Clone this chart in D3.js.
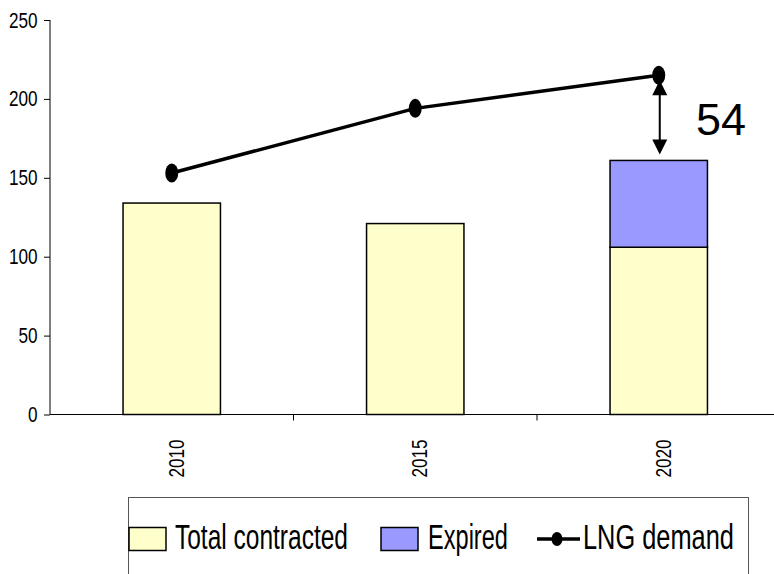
<!DOCTYPE html>
<html>
<head>
<meta charset="utf-8">
<script src="https://cdn.jsdelivr.net/npm/d3@7"></script>
<style>
  html, body { margin: 0; padding: 0; background: #fff; }
  svg { display: block; }
  text { font-family: "Liberation Sans", Arial, sans-serif; fill: #000; }
</style>
</head>
<body>
<svg id="chart" width="774" height="574"></svg>
<script>
// LNG supply vs demand, in the chart's units
const years = ["2010", "2015", "2020"];
const totalContracted = [134, 121, 106];
const expired = [0, 0, 55];
const lngDemand = [153, 194, 215];
const yTicks = [0, 50, 100, 150, 200, 250];
const gapLabel = "54";
const legendLabels = ["Total contracted", "Expired", "LNG demand"];

const colors = { contracted: "#FFFFCC", expired: "#9999FF", line: "#000" };
const narrowScale = 0.78; // horizontal squeeze for the condensed labels

const svg = d3.select("#chart");
const m = { left: 50, top: 20, right: 780.5, bottom: 414.5 };

const x = d3.scaleBand().domain(years).range([m.left, m.right]).paddingInner(0).paddingOuter(0);
const y = d3.scaleLinear().domain([0, 250]).range([m.bottom, m.top]);
const barW = x.bandwidth() * 0.4;
const cx = d => x(d) + x.bandwidth() / 2;

// y axis
const yAxis = svg.append("g").attr("transform", `translate(${m.left},0)`)
  .call(d3.axisLeft(y).tickValues(yTicks).tickSize(6).tickPadding(5).tickFormat(d3.format("d")));
yAxis.attr("font-family", null);
yAxis.select(".domain").attr("stroke", "#000").attr("stroke-width", 1).attr("d", `M0,${m.top}V${m.bottom}`);
yAxis.selectAll(".tick line").attr("stroke", "#000");
yAxis.selectAll(".tick text")
  .attr("font-size", 22).attr("fill", "#000")
  .attr("x", -12.5 / narrowScale)
  .attr("transform", `scale(${narrowScale},1)`);

// bars: contracted base, expired stacked on top
const stacks = years.map((yr, i) => ({ yr, base: totalContracted[i], top: totalContracted[i] + expired[i] }));
svg.append("g").selectAll("rect").data(stacks).join("rect")
  .attr("x", d => cx(d.yr) - barW / 2).attr("width", barW)
  .attr("y", d => y(d.base)).attr("height", d => y(0) - y(d.base))
  .attr("fill", colors.contracted).attr("stroke", "#000").attr("stroke-width", 1.5);
svg.append("g").selectAll("rect").data(stacks.filter(d => d.top > d.base)).join("rect")
  .attr("x", d => cx(d.yr) - barW / 2).attr("width", barW)
  .attr("y", d => y(d.top)).attr("height", d => y(d.base) - y(d.top))
  .attr("fill", colors.expired).attr("stroke", "#000").attr("stroke-width", 1.5);

// x axis
const xAxis = svg.append("g").attr("transform", `translate(0,${m.bottom})`);
xAxis.append("line").attr("x1", m.left).attr("x2", 774).attr("stroke", "#000").attr("stroke-width", 1);
xAxis.selectAll("line.tk").data(years.slice(1)).join("line")
  .attr("x1", d => x(d)).attr("x2", d => x(d)).attr("y1", 0).attr("y2", 6)
  .attr("stroke", "#000");
xAxis.selectAll("text").data(years).join("text")
  .attr("transform", d => `translate(${cx(d) + 4},${458.5 - m.bottom}) rotate(-90) scale(${narrowScale},1)`)
  .attr("text-anchor", "middle").attr("dy", "0.36em")
  .attr("font-size", 22).text(d => d);

// demand line with oval markers
const line = d3.line().x((d, i) => cx(years[i])).y(d => y(d));
svg.append("path").datum(lngDemand).attr("d", line)
  .attr("fill", "none").attr("stroke", colors.line).attr("stroke-width", 3.5);
svg.append("g").selectAll("ellipse").data(lngDemand).join("ellipse")
  .attr("cx", (d, i) => cx(years[i])).attr("cy", d => y(d))
  .attr("rx", 6.5).attr("ry", 9.5).attr("fill", "#000");

// gap arrow between 2020 demand and stacked bar top
const last = years.length - 1;
const ax = cx(years[last]) + 1;
const yTop = y(lngDemand[last]) + 5;
const yBot = y(totalContracted[last] + expired[last]) - 6;
svg.append("line").attr("x1", ax).attr("x2", ax).attr("y1", yTop + 8).attr("y2", yBot - 8)
  .attr("stroke", "#000").attr("stroke-width", 2);
svg.append("path").attr("d", `M${ax},${yTop}L${ax - 7.5},${yTop + 15}L${ax + 7.5},${yTop + 15}Z`).attr("fill", "#000");
svg.append("path").attr("d", `M${ax},${yBot}L${ax - 7.5},${yBot - 15}L${ax + 7.5},${yBot - 15}Z`).attr("fill", "#000");
svg.append("text").attr("x", 696).attr("y", 135).attr("font-size", 45).text(gapLabel);

// legend
const lg = svg.append("g");
lg.append("rect").attr("x", 128.5).attr("y", 497.5).attr("width", 620).attr("height", 100)
  .attr("fill", "#fff").attr("stroke", "#555").attr("stroke-width", 1);
const ly = 539;
const baseline = 549;
// condensed legend label: squeeze horizontally so it spans width w
const legendText = (label, x0, w) => {
  const t = lg.append("text").attr("x", 0).attr("y", 0).attr("font-size", 35).text(label);
  const natural = t.node().getComputedTextLength();
  t.attr("transform", `translate(${x0},${baseline}) scale(${w / natural},1)`);
  return t;
};
lg.append("rect").attr("x", 129).attr("y", 527.5).attr("width", 37).attr("height", 23)
  .attr("fill", colors.contracted).attr("stroke", "#000").attr("stroke-width", 1.5);
legendText(legendLabels[0], 175, 173);
lg.append("rect").attr("x", 381).attr("y", 527.5).attr("width", 37).attr("height", 23)
  .attr("fill", colors.expired).attr("stroke", "#000").attr("stroke-width", 1.5);
legendText(legendLabels[1], 428, 80);
lg.append("line").attr("x1", 537).attr("x2", 580).attr("y1", ly).attr("y2", ly)
  .attr("stroke", "#000").attr("stroke-width", 3.5);
lg.append("ellipse").attr("cx", 557).attr("cy", ly).attr("rx", 5.5).attr("ry", 7).attr("fill", "#000");
legendText(legendLabels[2], 583, 151);
</script>
</body>
</html>
